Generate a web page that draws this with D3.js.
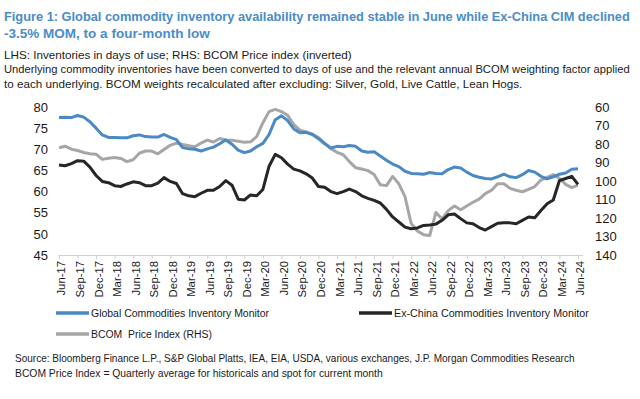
<!DOCTYPE html>
<html>
<head>
<meta charset="utf-8">
<script src="https://cdn.jsdelivr.net/npm/d3@7"></script>
<style>
	body { margin: 0; background: #fff; }
	svg text { font-family: 'Liberation Sans Narrow', 'Arial Narrow', 'Liberation Sans', sans-serif; fill: #1a1a1a; }
</style>
</head>
<body>
<svg id="chart" width="640" height="399"></svg>
<script>
// monthly points, Jun-17 .. Jun-24
const startMonth = new Date(2017, 5, 1);
const endMonth = new Date(2024, 5, 1);

const tickLabels = ["Jun-17", "Sep-17", "Dec-17", "Mar-18", "Jun-18", "Sep-18", "Dec-18", "Mar-19", "Jun-19", "Sep-19",
	"Dec-19", "Mar-20", "Jun-20", "Sep-20", "Dec-20", "Mar-21", "Jun-21", "Sep-21", "Dec-21", "Mar-22",
	"Jun-22", "Sep-22", "Dec-22", "Mar-23", "Jun-23", "Sep-23", "Dec-23", "Mar-24", "Jun-24"];

const leftTicks = [45, 50, 55, 60, 65, 70, 75, 80];
const rightTicks = [60, 70, 80, 90, 100, 110, 120, 130, 140];

// Global Commodities Inventory Monitor (days of use, LHS)
const globalCIM = [77.5, 77.6, 77.5, 78.0, 77.6, 76.5, 75.0, 73.4, 72.8, 72.8,
	72.7, 72.7, 73.2, 73.4, 73.0, 72.9, 72.9, 73.5, 72.8, 72.3,
	70.4, 70.1, 70.0, 69.6, 70.1, 70.5, 71.3, 72.2, 71.2, 69.8,
	69.2, 69.6, 70.6, 71.4, 73.5, 77.0, 77.9, 76.8, 74.8, 73.9,
	74.0, 73.5, 72.5, 71.3, 70.3, 70.7, 70.6, 70.9, 70.7, 69.6,
	69.3, 69.4, 68.4, 67.4, 66.5, 65.9, 64.8, 64.3, 64.2, 64.1,
	64.5, 64.3, 64.2, 65.2, 65.8, 65.6, 64.6, 63.8, 63.4, 63.1,
	63.0, 63.5, 64.1, 63.5, 63.3, 64.0, 65.0, 64.6, 63.6, 63.0,
	63.5, 64.1, 64.4, 65.3, 65.4];

// Ex-China Commodities Inventory Monitor (LHS)
const exChinaCIM = [66.3, 66.1, 66.6, 67.3, 67.2, 65.8, 63.8, 62.4, 62.1, 61.4,
	61.2, 61.8, 62.3, 62.1, 61.4, 61.4, 62.0, 63.3, 62.4, 61.9,
	59.5, 59.0, 58.8, 59.6, 60.3, 60.3, 61.2, 62.6, 61.5, 58.2,
	58.0, 59.2, 59.0, 60.5, 66.0, 68.8, 68.0, 66.5, 65.3, 64.9,
	64.2, 63.2, 61.2, 61.0, 60.0, 59.5, 60.0, 60.6, 60.0, 59.0,
	58.4, 57.9, 57.3, 55.8, 54.0, 52.8, 51.6, 51.2, 51.4, 52.0,
	52.1, 52.3, 53.2, 54.5, 54.7, 53.6, 52.6, 52.4, 51.5, 50.9,
	51.7, 52.5, 52.6, 52.6, 52.4, 53.2, 54.0, 53.8, 55.5, 57.1,
	58.0, 62.6, 63.1, 63.6, 61.7];

// BCOM Price Index (RHS, inverted)
const bcom = [82.0, 81.2, 82.8, 83.5, 84.6, 85.3, 85.5, 88.3, 87.7, 87.3,
	87.8, 89.5, 88.5, 85.0, 83.8, 83.8, 85.3, 83.0, 80.7, 79.5,
	80.3, 80.9, 81.5, 79.5, 77.9, 78.9, 77.0, 77.8, 78.0, 78.5,
	79.0, 78.8, 76.0, 68.5, 62.5, 61.3, 62.5, 64.5, 69.5, 72.5,
	73.5, 74.7, 76.5, 79.5, 82.5, 84.5, 85.8, 89.5, 92.8, 93.5,
	94.4, 96.5, 102.0, 102.5, 97.5, 101.5, 108.5, 123.0, 127.0, 129.0,
	129.5, 117.0, 120.5, 116.0, 113.5, 115.5, 113.5, 111.5, 109.8, 106.8,
	105.0, 101.5, 101.5, 104.0, 105.0, 105.8, 104.5, 103.0, 99.5, 98.0,
	96.5, 98.5, 101.8, 103.6, 102.2];

const titleLines = ["Figure 1: Global commodity inventory availability remained stable in June while Ex-China CIM declined",
	"-3.5% MOM, to a four-month low"];
const subtitleLines = ["LHS: Inventories in days of use; RHS: BCOM Price index (inverted)",
	"Underlying commodity inventories have been converted to days of use and the relevant annual BCOM weighting factor applied",
	"to each underlying. BCOM weights recalculated after excluding: Silver, Gold, Live Cattle, Lean Hogs."];
const sourceLines = ["Source: Bloomberg Finance L.P., S&P Global Platts, IEA, EIA, USDA, various exchanges, J.P. Morgan Commodities Research",
	"BCOM Price Index = Quarterly average for historicals and spot for current month"];

const colBlue = "#4a89c6";
const colBlack = "#262626";
const colGray = "#a6a6a6";

const svg = d3.select("#chart");

// fit a text to a measured width: shrink the font if too long, stretch if short
function fitText(sel, w) {
	const len = sel.node().getComputedTextLength();
	if (len > w) {
		const fs = parseFloat(sel.style("font-size"));
		sel.style("font-size", (fs * w / len).toFixed(2) + "px");
	} else if (w - len > 1) {
		sel.attr("textLength", w).attr("lengthAdjust", "spacingAndGlyphs");
	}
	return sel;
}

// header
const titleWidths = [626, 206];
titleLines.forEach((t, i) => {
	const s = svg.append("text")
		.attr("x", 4).attr("y", 21 + i * 17)
		.style("font-size", "14.5px").style("font-weight", "bold").style("fill", "#4a8cc9")
		.text(t);
	fitText(s, titleWidths[i]);
});

const subWidths = [348, 626, 519];
subtitleLines.forEach((t, i) => {
	const s = svg.append("text")
		.attr("x", 4).attr("y", 58.5 + i * 14.5)
		.style("font-size", "12.5px")
		.text(t);
	fitText(s, subWidths[i]);
});

// scales
const months = d3.timeMonth.range(startMonth, d3.timeMonth.offset(endMonth, 1));
const xIdx = d3.scaleLinear().domain([0, months.length - 1]).range([59, 578]);
const yL = d3.scaleLinear().domain([45, 80]).range([255, 107]);
const yR = d3.scaleLinear().domain([140, 60]).range([255, 107]);

// x axis, a tick every quarter
const xAxis = d3.axisBottom(xIdx)
	.tickValues(d3.range(0, months.length, 3))
	.tickSize(4)
	.tickFormat((d, i) => tickLabels[i]);

const gx = svg.append("g")
	.attr("transform", "translate(0,255)")
	.call(xAxis);
gx.select(".domain").attr("stroke", "#d0d0d0").attr("d", "M58.5,0.5H583");
gx.selectAll(".tick line").attr("stroke", "#d0d0d0");
gx.selectAll(".tick text")
	.attr("transform", "rotate(-90)")
	.attr("x", -6).attr("y", 2).attr("dy", "0.35em")
	.attr("text-anchor", "end")
	.style("font-family", "'Liberation Sans', Arial, sans-serif")
	.style("font-size", "11.3px")
	.style("fill", "#1a1a1a");

// y axes
const gl = svg.append("g")
	.attr("transform", "translate(48,0)")
	.call(d3.axisLeft(yL).tickValues(leftTicks).tickSize(0).tickPadding(0));
gl.select(".domain").remove();
gl.selectAll("text").style("font-size", "13px").style("fill", "#1a1a1a");

const gr = svg.append("g")
	.attr("transform", "translate(595,0)")
	.call(d3.axisRight(yR).tickValues(rightTicks).tickSize(0).tickPadding(0));
gr.select(".domain").remove();
gr.selectAll("text").style("font-size", "13px").style("fill", "#1a1a1a");

// lines
const lineL = d3.line().x((d, i) => xIdx(i)).y(d => yL(d));
const lineR = d3.line().x((d, i) => xIdx(i)).y(d => yR(d));

const series = [
	{ data: bcom, gen: lineR, color: colGray },
	{ data: globalCIM, gen: lineL, color: colBlue },
	{ data: exChinaCIM, gen: lineL, color: colBlack }
];

svg.append("g").selectAll("path")
	.data(series)
	.enter()
	.append("path")
	.attr("d", d => d.gen(d.data))
	.attr("fill", "none")
	.attr("stroke", d => d.color)
	.attr("stroke-width", 3)
	.attr("stroke-linejoin", "round");

// legend
const legend = [
	{ name: "Global Commodities Inventory Monitor", color: colBlue, x: 56, y: 313, w: 178 },
	{ name: "Ex-China Commodities Inventory Monitor", color: colBlack, x: 359, y: 313, w: 195 },
	{ name: "BCOM  Price Index (RHS)", color: colGray, x: 56, y: 334, w: 121 }
];

const lg = svg.append("g").selectAll("g")
	.data(legend)
	.enter()
	.append("g")
	.attr("transform", d => "translate(" + d.x + "," + d.y + ")");

lg.append("line")
	.attr("x1", 0).attr("x2", 33)
	.attr("stroke", d => d.color)
	.attr("stroke-width", 3.5);

lg.append("text")
	.attr("x", 35).attr("y", 4.3)
	.style("font-size", "12.5px")
	.style("white-space", "pre")
	.text(d => d.name)
	.each(function(d) { fitText(d3.select(this), d.w); });

// source notes
const srcWidths = [560, 368];
sourceLines.forEach((t, i) => {
	const s = svg.append("text")
		.attr("x", 15).attr("y", 362 + i * 15)
		.style("font-size", "11px")
		.text(t);
	fitText(s, srcWidths[i]);
});
</script>
</body>
</html>
